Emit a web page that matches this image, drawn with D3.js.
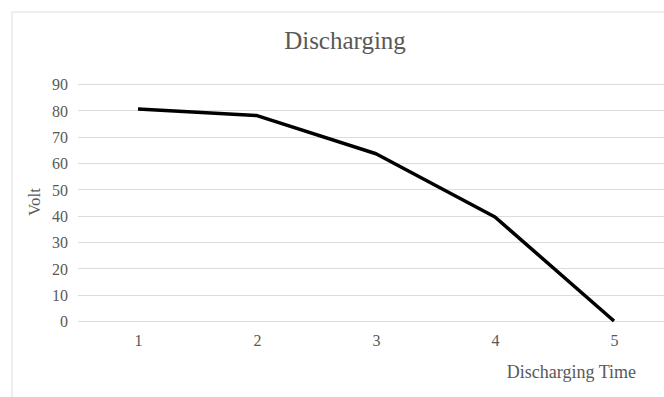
<!DOCTYPE html>
<html>
<head>
<meta charset="utf-8">
<script src="https://cdn.jsdelivr.net/npm/d3@7"></script>
<style>
html, body { margin: 0; padding: 0; background: #ffffff; }
svg { display: block; }
text { font-family: "Liberation Serif", "Times New Roman", serif; fill: #595959; }
</style>
</head>
<body>
<script>
const categories = ["1", "2", "3", "4", "5"];
const volts = [80.5, 78, 63.5, 39.5, 0];
const yTicks = [0, 10, 20, 30, 40, 50, 60, 70, 80, 90];
const title = "Discharging";
const xTitle = "Discharging Time";
const yTitle = "Volt";

const W = 664, H = 397;
const svg = d3.select("body").append("svg").attr("width", W).attr("height", H);

// chart frame
svg.append("rect")
  .attr("x", 12).attr("y", 12)
  .attr("width", W + 10).attr("height", H + 10)
  .attr("fill", "none").attr("stroke", "#e3e3e3").attr("stroke-width", 1.2);

const x = d3.scalePoint().domain(categories).range([78.5, 673.5]).padding(0.5);
const y = d3.scaleLinear().domain([0, 90]).range([321, 84]);

// gridlines
svg.append("g").selectAll("line").data(yTicks).join("line")
  .attr("x1", 78).attr("x2", W)
  .attr("y1", d => Math.round(y(d)) + 0.5).attr("y2", d => Math.round(y(d)) + 0.5)
  .attr("stroke", "#dcdcdc").attr("stroke-width", 1);

// y axis labels
const yAxis = d3.axisLeft(y).tickValues(yTicks).tickSize(0).tickPadding(0);
const gy = svg.append("g").attr("transform", "translate(68,0)").call(yAxis);
gy.select(".domain").remove();
gy.selectAll("text").attr("font-size", 16).attr("font-family", "Liberation Serif").attr("fill", "#595959").attr("dy", "0.36em");

// x axis labels
const xAxis = d3.axisBottom(x).tickSize(0).tickPadding(0);
const gx = svg.append("g").attr("transform", "translate(0,335)").call(xAxis);
gx.select(".domain").remove();
gx.selectAll("text").attr("font-size", 16).attr("font-family", "Liberation Serif").attr("fill", "#595959").attr("dy", "0.71em");

// line
const line = d3.line().x((d, i) => x(categories[i])).y(d => y(d));
svg.append("path").datum(volts)
  .attr("d", line)
  .attr("fill", "none").attr("stroke", "#000000").attr("stroke-width", 3.5)
  .attr("stroke-linejoin", "round");

// titles
svg.append("text").attr("x", 345).attr("y", 49).attr("text-anchor", "middle")
  .attr("font-size", 25).text(title);
svg.append("text").attr("x", 636).attr("y", 378).attr("text-anchor", "end")
  .attr("font-size", 18).text(xTitle);
svg.append("text").attr("transform", "translate(40,202) rotate(-90)").attr("text-anchor", "middle")
  .attr("font-size", 17).text(yTitle);
</script>
</body>
</html>
